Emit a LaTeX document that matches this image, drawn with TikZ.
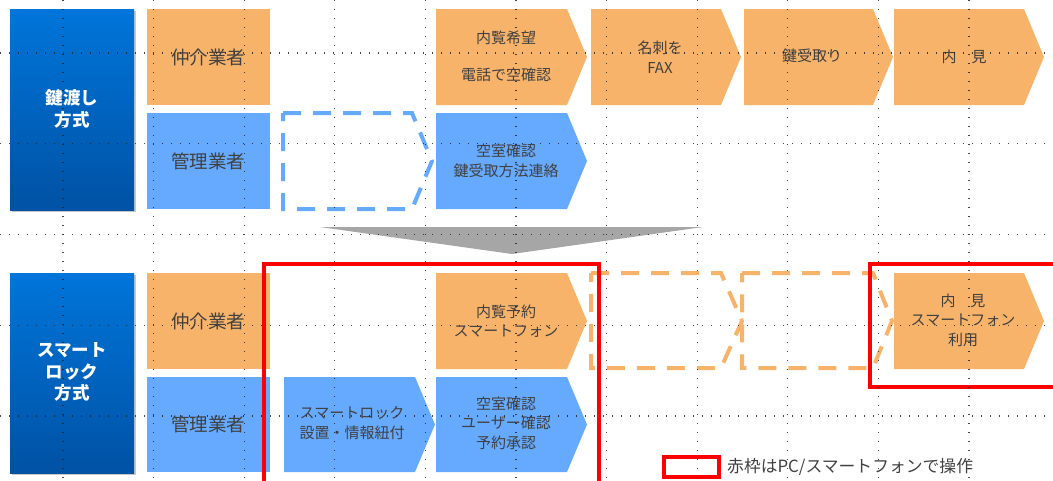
\documentclass[tikz,border=0pt]{standalone}
\usepackage{fontspec}
\setmainfont{Noto Sans CJK JP}
\definecolor{oran}{HTML}{F8B36A}
\definecolor{blu}{HTML}{66AAFF}
\definecolor{tgray}{HTML}{404040}
\definecolor{dkA}{HTML}{0075DA}
\definecolor{dkB}{HTML}{0052A4}
\definecolor{arrgray}{HTML}{A6A6A6}
\newcommand\chevshape[5]{\fill[#5] (#1,#2) -- ({#3-20},#2) -- (#3,{(#2+#4)/2}) -- ({#3-20},#4) -- (#1,#4) -- cycle;}
\tikzset{
  gridline/.style={draw=black!85, line width=1.2pt, dash pattern=on 1.2pt off 7.8pt, opacity=0.85},
  txt/.style={text=tgray, font=\fontsize{15}{19.5}\selectfont, align=center, inner sep=0pt},
  labtxt/.style={text=tgray, font=\fontsize{18.5}{22}\selectfont, inner sep=0pt},
  sidetxt/.style={text=white, font=\bfseries\fontsize{17.5}{21.7}\selectfont, align=center, inner sep=0pt},
  ordash/.style={draw=oran, line width=4pt, dash pattern=on 18pt off 12pt},
  bldash/.style={draw=blu, line width=4pt, dash pattern=on 18pt off 12pt},
  redbox/.style={draw=red, line width=3.5pt},
}
\begin{document}
\begin{tikzpicture}[x=1pt,y=-1pt]
\useasboundingbox (0,0) rectangle (1053,480);
% side boxes
\fill[black, opacity=0.22] (12,11) rectangle (136,212);
\fill[black, opacity=0.22] (12,275) rectangle (136,475);
\shade[top color=dkA, bottom color=dkB] (10,9) rectangle (134,210);
\shade[top color=dkA, bottom color=dkB] (10,273) rectangle (134,473);
\node[sidetxt] (s1) at (72,109) {鍵渡し\\方式};
\node[sidetxt] (s2) at (72,372) {スマート\\ロック\\方式};
% label boxes
\fill[oran] (147,9) rectangle (270,105);
\fill[blu] (147,113) rectangle (270,209);
\fill[oran] (147,273) rectangle (270,369);
\fill[blu] (147,377) rectangle (270,472);
\node[labtxt] (l1) at (208,57) {仲介業者};
\node[labtxt] (l2) at (208,161) {管理業者};
\node[labtxt] (l3) at (208,321) {仲介業者};
\node[labtxt] (l4) at (208,424) {管理業者};
% top chevrons
\chevshape{436}{9}{587}{105}{oran}
\chevshape{591}{9}{741}{105}{oran}
\chevshape{744}{9}{893}{105}{oran}
\chevshape{894}{9}{1044}{105}{oran}
\chevshape{436}{113}{587}{209}{blu}
\node[txt] (c1a) at (506,38) {内覧希望};
\node[txt] (c1b) at (506,75) {電話で空確認};
\node[txt] (c2) at (660,57) {名刺を\\FAX};
\node[txt] (c3) at (812,56) {鍵受取り};
\node[txt] (c4) at (964,57) {内\hspace{1em}見};
\node[txt] (c5) at (506,161) {空室確認\\鍵受取方法連絡};
\draw[bldash] (283,113) -- (412,113) -- (432,161) -- (412,209) -- (283,209) -- cycle;
% gray arrow
\fill[arrgray] (320,227) -- (703,227) -- (512,254) -- cycle;
% bottom chevrons
\chevshape{436}{273}{587}{369}{oran}
\chevshape{436}{377}{587}{472}{blu}
\chevshape{284}{377}{435}{472}{blu}
\chevshape{894}{273}{1044}{369}{oran}
\node[txt] (d1) at (506,321) {内覧予約\\スマートフォン};
\node[txt] (d2) at (506,423) {空室確認\\ユーザー確認\\予約承認};
\node[txt] (d3) at (352,423) {スマートロック\\設置・情報紐付};
\node[txt] (d4) at (963,320) {内\hspace{1em}見\\スマートフォン\\利用};
\draw[ordash] (591,273) -- (721,273) -- (742,321) -- (721,368) -- (591,368) -- cycle;
\draw[ordash] (742,273) -- (873,273) -- (892,321) -- (873,368) -- (742,368) -- cycle;
% red frames
\draw[redbox] (264,264) rectangle (599,492);
\draw[redbox] (870,264) rectangle (1068,387);
\draw[redbox] (664,457) rectangle (719,477);
\node[anchor=west, text=tgray, font=\fontsize{16.8}{19}\selectfont, inner sep=0pt] (leg) at (727,467) {赤枠はPC/スマートフォンで操作};
% grid
\foreach \i in {0,...,11} \draw[gridline] ({63+90.6*\i},0) -- ({63+90.6*\i},480);
\foreach \j in {0,...,4} \draw[gridline] (0,{53+90.75*\j}) -- (1053,{53+90.75*\j});
\end{tikzpicture}
\end{document}
